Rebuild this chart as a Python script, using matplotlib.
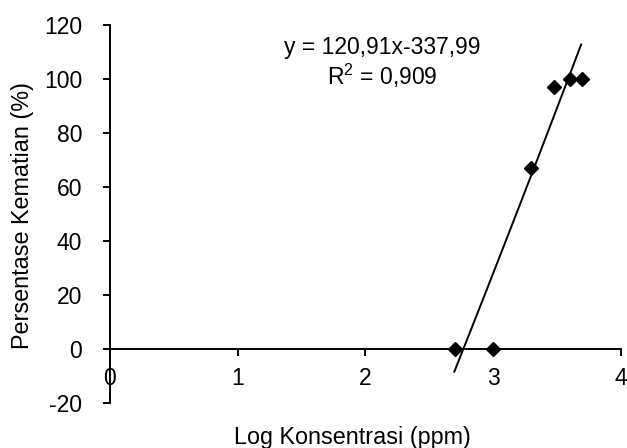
import numpy as np
import matplotlib
matplotlib.use("Agg")
import matplotlib.pyplot as plt

plt.rcParams['font.family'] = ['Liberation Sans', 'DejaVu Sans']
plt.rcParams['axes.unicode_minus'] = False
plt.rcParams['mathtext.fontset'] = 'custom'
plt.rcParams['mathtext.rm'] = 'Liberation Sans'

# data points (log concentration, mortality %)
log_conc = [2.699, 3.0, 3.301, 3.477, 3.602, 3.699]
mortality = [0, 0, 67, 97, 100, 100]

# trendline as drawn in the reference
trend_x = [2.697, 2.78, 2.936, 3.325, 3.533, 3.69]
trend_y = [-8.4, 0, 23, 65, 94.7, 112.6]

x_ticks = [0, 1, 2, 3, 4]
y_ticks = [-20, 0, 20, 40, 60, 80, 100, 120]

fig = plt.figure(figsize=(6.27, 4.48), dpi=100)
ax = fig.add_axes([0.1754, 0.1004, 0.8146, 0.8438])

coef = np.polyfit(trend_x, trend_y, 2)
xs = np.linspace(trend_x[0], trend_x[-1], 100)
ax.plot(xs, np.polyval(coef, xs), color='black', lw=1.4, zorder=3)

ax.plot(log_conc, mortality, linestyle='none', marker='D', markersize=7.5,
        color='black', zorder=4, clip_on=False)

ax.set_xlim(0, 4)
ax.set_ylim(-20, 120)
ax.set_xticks(x_ticks)
ax.set_yticks(y_ticks)

for s in ['top', 'right']:
    ax.spines[s].set_visible(False)
ax.spines['bottom'].set_position(('data', 0))
ax.spines['bottom'].set_linewidth(1.4)
ax.spines['left'].set_linewidth(1.4)

ax.tick_params(axis='y', direction='out', length=5, width=1.4, pad=15, labelsize=16.5)
ax.tick_params(axis='x', direction='out', length=5, width=1.4, pad=8, labelsize=16.5)

ax.set_xlabel('Log Konsentrasi (ppm)', fontsize=16.8, va='center')
ax.xaxis.set_label_coords(0.474, -0.09)
ax.set_ylabel('Persentase Kematian (%)', fontsize=16.8, va='center')
ax.yaxis.set_label_coords(-0.171, 0.497)

ax.text(2.13, 111.8, 'y = 120,91x-337,99', fontsize=16.5, ha='center', va='center')
ax.text(2.13, 101.3, r'R$^{\mathrm{2}}$ = 0,909', fontsize=16.5, ha='center', va='center')

fig.savefig('out.png', dpi=100)
